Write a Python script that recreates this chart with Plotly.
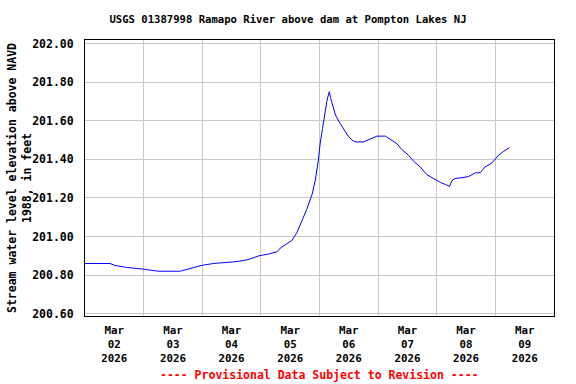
import plotly.graph_objects as go

# Time (local) and gage height values
times = [
    "2026-03-02 00:00", "2026-03-02 10:15", "2026-03-02 12:15", "2026-03-02 17:00",
    "2026-03-03 00:15", "2026-03-03 06:00", "2026-03-03 15:00", "2026-03-03 20:15",
    "2026-03-03 23:45", "2026-03-04 04:30", "2026-03-04 14:15", "2026-03-04 18:45",
    "2026-03-04 21:15", "2026-03-04 23:15", "2026-03-05 03:30", "2026-03-05 06:30",
    "2026-03-05 08:00", "2026-03-05 10:30", "2026-03-05 12:45", "2026-03-05 14:45",
    "2026-03-05 16:45", "2026-03-05 18:45", "2026-03-05 21:00", "2026-03-05 22:15",
    "2026-03-05 23:30", "2026-03-06 00:15", "2026-03-06 01:15", "2026-03-06 02:00",
    "2026-03-06 03:00", "2026-03-06 03:45", "2026-03-06 04:00", "2026-03-06 04:30",
    "2026-03-06 05:00", "2026-03-06 05:45", "2026-03-06 06:30", "2026-03-06 07:45",
    "2026-03-06 09:45", "2026-03-06 11:45", "2026-03-06 13:15", "2026-03-06 14:30",
    "2026-03-06 18:00", "2026-03-06 20:00", "2026-03-06 23:30", "2026-03-07 03:00",
    "2026-03-07 05:30", "2026-03-07 07:45", "2026-03-07 09:45", "2026-03-07 12:30",
    "2026-03-07 14:30", "2026-03-07 17:15", "2026-03-07 20:00", "2026-03-07 22:45",
    "2026-03-08 01:30", "2026-03-08 03:30", "2026-03-08 05:15", "2026-03-08 06:15",
    "2026-03-08 07:30", "2026-03-08 13:00", "2026-03-08 15:45", "2026-03-08 17:45",
    "2026-03-08 19:45", "2026-03-08 22:30", "2026-03-09 01:15", "2026-03-09 03:15",
    "2026-03-09 05:45",
]
elevation = [
    200.86, 200.86, 200.85, 200.84,
    200.83, 200.82, 200.82, 200.84,
    200.85, 200.86, 200.87, 200.88,
    200.89, 200.90, 200.91, 200.92,
    200.94, 200.96, 200.98, 201.02,
    201.08, 201.14, 201.22, 201.29,
    201.39, 201.48, 201.56, 201.63,
    201.70, 201.74, 201.75, 201.72,
    201.70, 201.67, 201.63, 201.60,
    201.56, 201.52, 201.50, 201.49,
    201.49, 201.50, 201.52, 201.52,
    201.50, 201.48, 201.45, 201.42,
    201.39, 201.36, 201.32, 201.30,
    201.28, 201.27, 201.26, 201.29,
    201.30, 201.31, 201.33, 201.33,
    201.36, 201.38, 201.42, 201.44,
    201.46,
]

tick_dates = ["2026-03-02", "2026-03-03", "2026-03-04", "2026-03-05",
              "2026-03-06", "2026-03-07", "2026-03-08", "2026-03-09"]
tick_labels = ["Mar<br>02<br>2026", "Mar<br>03<br>2026", "Mar<br>04<br>2026",
               "Mar<br>05<br>2026", "Mar<br>06<br>2026", "Mar<br>07<br>2026",
               "Mar<br>08<br>2026", "Mar<br>09<br>2026"]
y_ticks = [200.6, 200.8, 201.0, 201.2, 201.4, 201.6, 201.8, 202.0]

title_text = "USGS 01387998 Ramapo River above dam at Pompton Lakes NJ"
y_title = "Stream water level elevation above NAVD<br>1988, in feet"
note_text = "---- Provisional Data Subject to Revision ----"

FONT = "DejaVu Sans Mono"

fig = go.Figure()
fig.add_trace(go.Scatter(
    x=times, y=elevation, mode="lines",
    line=dict(color="#0000ff", width=1),
    showlegend=False, hoverinfo="skip",
))

fig.update_layout(
    width=576, height=384,
    margin=dict(l=85, r=22, t=40, b=68),
    paper_bgcolor="white", plot_bgcolor="white",
    font=dict(family=FONT, size=11.5, color="black", weight="bold"),
    title=dict(text=title_text, x=0.5, xref="container", xanchor="center",
               y=1 - 19 / 384, yanchor="middle",
               font=dict(family=FONT, size=10.6, color="black", weight="bold")),
)

fig.update_xaxes(
    type="date",
    range=["2026-03-02 00:00", "2026-03-10 00:00"],
    tickmode="array",
    tickvals=[d + " 12:00" for d in tick_dates],
    ticktext=tick_labels,
    showgrid=False,
    ticks="",
    ticklabelstandoff=4,
    automargin=False,
    minor=dict(dtick=86400000, tick0="2026-03-02", showgrid=True,
               gridcolor="#c8c8c8", gridwidth=1, ticks=""),
    showline=True, mirror=True, linecolor="black", linewidth=1,
    zeroline=False,
    tickfont=dict(family=FONT, size=10.8, color="black", weight="bold"),
)

fig.update_yaxes(
    range=[200.588, 202.018],
    tickmode="array",
    tickvals=y_ticks,
    tickformat=".2f",
    showgrid=True, gridcolor="#c8c8c8", gridwidth=1,
    ticks="",
    ticklabelstandoff=8,
    automargin=False,
    showline=True, mirror=True, linecolor="black", linewidth=1,
    zeroline=False,
    tickfont=dict(family=FONT, size=11.5, color="black", weight="bold"),
)

fig.add_annotation(
    text=y_title, textangle=-90,
    xref="paper", yref="paper", x=(19 - 85) / 469, y=0.5,
    xanchor="center", yanchor="middle", showarrow=False,
    font=dict(family=FONT, size=11.5, color="black", weight="bold"),
)

fig.add_annotation(
    text=note_text,
    xref="paper", yref="paper", x=0.5, y=-(375 - 316) / 276,
    xanchor="center", yanchor="middle", showarrow=False,
    font=dict(family=FONT, size=11.5, color="red", weight="bold"),
)

fig.write_html("out.html", config={"displayModeBar": False},
               post_script="document.body.style.margin='0';")
